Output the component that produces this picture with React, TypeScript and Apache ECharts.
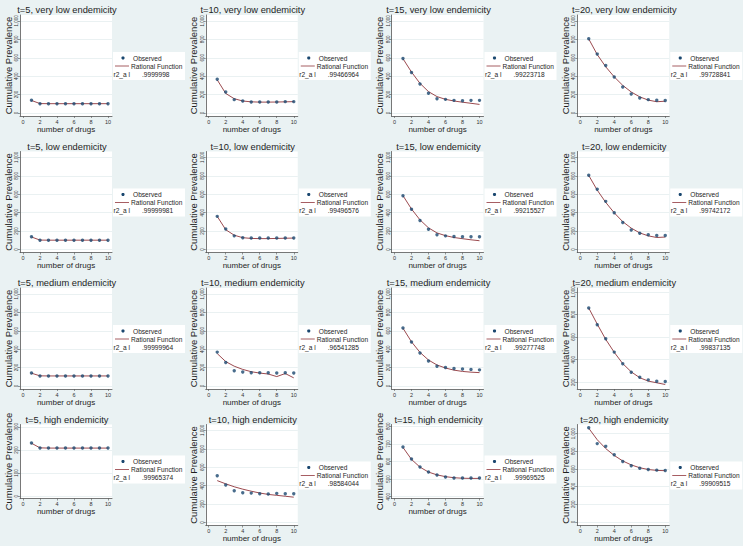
import React, { useEffect, useRef } from "react";
import * as echarts from "echarts";

// ---------- data ----------
const drugs = [1, 2, 3, 4, 5, 6, 7, 8, 9, 10];
const xTicks = [0, 2, 4, 6, 8, 10];
const yTicksStd = [0, 200, 400, 600, 800, 1000];
const yTicksMediumT20 = [200, 400, 600, 800, 1000];
const yTicksHighT5 = [0, 100, 200, 300];
const yTicksHighT15 = [400, 500, 600, 700, 800];

const timePoints = ["t=5", "t=10", "t=15", "t=20"];
const endemicity = ["very low", "low", "medium", "high"];

// very low endemicity
const obsVeryLowT5 = [138, 101, 101, 101, 101, 101, 101, 101, 101, 101];
const fitVeryLowT5 = [136, 102, 101, 101, 101, 101, 101, 101, 101, 101];
const obsVeryLowT10 = [366, 228, 145, 130, 120, 120, 120, 120, 123, 123];
const fitVeryLowT10 = [360, 212, 155, 130, 121, 118, 118, 119, 121, 123];
const obsVeryLowT15 = [592, 440, 315, 215, 155, 148, 137, 133, 137, 137];
const fitVeryLowT15 = [590, 445, 322, 232, 178, 148, 130, 117, 105, 93];
const obsVeryLowT20 = [806, 640, 515, 390, 283, 207, 163, 145, 138, 135];
const fitVeryLowT20 = [805, 635, 502, 392, 300, 228, 175, 140, 122, 128];

// low endemicity
const obsLowT5 = [138, 101, 101, 101, 101, 101, 101, 101, 101, 101];
const fitLowT5 = [136, 102, 101, 101, 101, 101, 101, 101, 101, 101];
const obsLowT10 = [360, 222, 148, 127, 124, 124, 124, 124, 124, 124];
const fitLowT10 = [360, 215, 155, 128, 120, 118, 118, 120, 122, 124];
const obsLowT15 = [583, 438, 315, 219, 159, 148, 141, 138, 138, 138];
const fitLowT15 = [585, 440, 322, 235, 180, 150, 130, 117, 105, 95];
const obsLowT20 = [806, 654, 523, 399, 293, 212, 177, 159, 152, 152];
const fitLowT20 = [805, 645, 512, 398, 302, 232, 180, 148, 130, 135];

// medium endemicity
const obsMediumT5 = [140, 109, 109, 109, 109, 109, 109, 109, 109, 109];
const fitMediumT5 = [139, 110, 109, 109, 109, 109, 109, 109, 109, 109];
const obsMediumT10 = [368, 256, 165, 151, 144, 144, 144, 141, 144, 141];
const fitMediumT10 = [352, 265, 215, 180, 155, 140, 130, 102, 135, 88];
const obsMediumT15 = [630, 478, 359, 272, 215, 200, 190, 185, 180, 175];
const fitMediumT15 = [628, 480, 365, 282, 228, 195, 172, 158, 150, 145];
const obsMediumT20 = [858, 710, 585, 467, 363, 289, 244, 221, 209, 206];
const fitMediumT20 = [858, 715, 580, 465, 365, 292, 240, 210, 195, 180];

// high endemicity
const obsHighT5 = [230, 208, 208, 208, 208, 208, 208, 208, 208, 208];
const fitHighT5 = [229, 209, 208, 208, 208, 208, 208, 208, 208, 208];
const obsHighT10 = [507, 408, 344, 323, 319, 312, 309, 316, 312, 312];
const fitHighT10 = [455, 420, 388, 362, 340, 320, 305, 295, 285, 275];
const obsHighT15 = [682, 614, 569, 540, 523, 512, 506, 506, 506, 506];
const fitHighT15 = [680, 612, 568, 540, 524, 514, 508, 505, 504, 504];
const obsHighT20 = [1065, 886, 855, 760, 684, 635, 608, 593, 586, 582];
const fitHighT20 = [1060, 930, 830, 752, 690, 645, 613, 593, 583, 580];

const r2VeryLow = [".9999998", ".99466964", ".99223718", ".99728841"];
const r2Low = [".99999981", ".99496576", ".99215527", ".99742172"];
const r2Medium = [".99999964", ".96541285", ".99277748", ".99837135"];
const r2High = [".99965374", ".98584044", ".99969525", ".99909515"];

// ---------- layout / styling ----------
const W = 743;
const H = 546;
const PW = W / 4;
const PH = H / 4;
const FONT = "'Liberation Sans', Arial, sans-serif";
const NAVY = "#1A476F";
const MAROON = "#90353B";
const BG = "#EAF2F3";
const TXT = "#1e1e1e";

type Panel = {
  obs: number[];
  fit: number[];
  r2: string;
  yMin: number;
  yMax: number;
  yTicks: number[];
  short?: boolean;
};

const panels: Panel[][] = [
  [
    { obs: obsVeryLowT5, fit: fitVeryLowT5, r2: r2VeryLow[0], yMin: -33, yMax: 1065, yTicks: yTicksStd },
    { obs: obsVeryLowT10, fit: fitVeryLowT10, r2: r2VeryLow[1], yMin: -33, yMax: 1065, yTicks: yTicksStd },
    { obs: obsVeryLowT15, fit: fitVeryLowT15, r2: r2VeryLow[2], yMin: -33, yMax: 1065, yTicks: yTicksStd },
    { obs: obsVeryLowT20, fit: fitVeryLowT20, r2: r2VeryLow[3], yMin: -33, yMax: 1065, yTicks: yTicksStd },
  ],
  [
    { obs: obsLowT5, fit: fitLowT5, r2: r2Low[0], yMin: -33, yMax: 1065, yTicks: yTicksStd },
    { obs: obsLowT10, fit: fitLowT10, r2: r2Low[1], yMin: -33, yMax: 1065, yTicks: yTicksStd },
    { obs: obsLowT15, fit: fitLowT15, r2: r2Low[2], yMin: -33, yMax: 1065, yTicks: yTicksStd },
    { obs: obsLowT20, fit: fitLowT20, r2: r2Low[3], yMin: -33, yMax: 1065, yTicks: yTicksStd },
  ],
  [
    { obs: obsMediumT5, fit: fitMediumT5, r2: r2Medium[0], yMin: -33, yMax: 1065, yTicks: yTicksStd },
    { obs: obsMediumT10, fit: fitMediumT10, r2: r2Medium[1], yMin: -33, yMax: 1065, yTicks: yTicksStd },
    { obs: obsMediumT15, fit: fitMediumT15, r2: r2Medium[2], yMin: -33, yMax: 1065, yTicks: yTicksStd },
    { obs: obsMediumT20, fit: fitMediumT20, r2: r2Medium[3], yMin: 140, yMax: 1035, yTicks: yTicksMediumT20 },
  ],
  [
    { obs: obsHighT5, fit: fitHighT5, r2: r2High[0], yMin: -10, yMax: 310, yTicks: yTicksHighT5, short: true },
    { obs: obsHighT10, fit: fitHighT10, r2: r2High[1], yMin: -33, yMax: 1065, yTicks: yTicksStd },
    { obs: obsHighT15, fit: fitHighT15, r2: r2High[2], yMin: 390, yMax: 810, yTicks: yTicksHighT15, short: true },
    { obs: obsHighT20, fit: fitHighT20, r2: r2High[3], yMin: -40, yMax: 1102, yTicks: yTicksStd },
  ],
];

function buildOption() {
  const grid: any[] = [];
  const xAxis: any[] = [];
  const yAxis: any[] = [];
  const series: any[] = [];
  const graphic: any[] = [];

  panels.forEach((row, r) => {
    row.forEach((p, c) => {
      const i = r * 4 + c;
      const ox = c * PW;
      const oy = r * PH;
      const gh = p.short ? 74 : 101;
      grid.push({
        left: ox + 20,
        top: oy + 15,
        width: 92,
        height: gh,
        show: true,
        backgroundColor: "#ffffff",
        borderWidth: 0,
        outerBoundsMode: "none",
      });
      xAxis.push({
        type: "value",
        gridIndex: i,
        min: -0.35,
        max: 10.47,
        name: "number of drugs",
        nameLocation: "middle",
        nameGap: 7,
        nameTextStyle: { fontSize: 8, color: TXT, fontFamily: FONT },
        axisLine: { show: true, onZero: false, lineStyle: { color: "#555", width: 0.8 } },
        axisTick: { show: true, length: 2, customValues: xTicks, lineStyle: { color: "#555", width: 0.6 } },
        axisLabel: { customValues: xTicks, fontSize: 5.5, margin: 2.5, color: "#333", fontFamily: FONT },
        splitLine: { show: false },
      });
      yAxis.push({
        type: "value",
        gridIndex: i,
        min: p.yMin,
        max: p.yMax,
        name: "Cumulative Prevalence",
        nameLocation: "middle",
        nameGap: 7,
        nameTextStyle: { fontSize: 9.5, color: TXT, fontFamily: FONT },
        axisLine: { show: true, onZero: false, lineStyle: { color: "#555", width: 0.8 } },
        axisTick: { show: true, length: 2, customValues: p.yTicks, lineStyle: { color: "#555", width: 0.6 } },
        axisLabel: { customValues: p.yTicks, rotate: 90, fontSize: 4.5, margin: 1, color: "#333", fontFamily: FONT },
        splitLine: { show: true, lineStyle: { color: "#E4EDEF", width: 0.8 } },
      });
      series.push({
        type: "scatter",
        name: "Observed",
        xAxisIndex: i,
        yAxisIndex: i,
        data: drugs.map((d, k) => [d, p.obs[k]]),
        symbol: "circle",
        symbolSize: 3.4,
        itemStyle: { color: NAVY },
        z: 3,
      });
      series.push({
        type: "line",
        name: "Rational Function",
        xAxisIndex: i,
        yAxisIndex: i,
        data: drugs.map((d, k) => [d, p.fit[k]]),
        showSymbol: false,
        lineStyle: { color: MAROON, width: 0.9 },
        z: 2,
      });

      // panel title
      graphic.push({
        type: "text",
        x: ox + 67,
        y: oy + 10,
        style: {
          text: `${timePoints[c]}, ${endemicity[r]} endemicity`,
          fontSize: 9.3,
          fontFamily: FONT,
          fill: TXT,
          align: "center",
          verticalAlign: "middle",
        },
      });

      // legend box
      const ly = oy + (p.short ? 46 : 52);
      graphic.push({
        type: "group",
        x: ox + 113,
        y: ly,
        children: [
          { type: "rect", shape: { x: 0, y: 0, width: 72, height: 28 }, style: { fill: "#ffffff" } },
          { type: "circle", shape: { cx: 10, cy: 6, r: 1.6 }, style: { fill: NAVY } },
          {
            type: "text",
            x: 20,
            y: 6,
            style: { text: "Observed", fontSize: 6.6, fontFamily: FONT, fill: TXT, verticalAlign: "middle" },
          },
          {
            type: "line",
            shape: { x1: 2, y1: 14, x2: 16, y2: 14 },
            style: { stroke: MAROON, lineWidth: 0.8 },
          },
          {
            type: "text",
            x: 18,
            y: 14,
            style: { text: "Rational Function", fontSize: 6.6, fontFamily: FONT, fill: TXT, verticalAlign: "middle" },
          },
          {
            type: "text",
            x: 0.5,
            y: 22,
            style: { text: "r2_a l", fontSize: 6.6, fontFamily: FONT, fill: TXT, verticalAlign: "middle" },
          },
          {
            type: "text",
            x: 29,
            y: 22,
            style: { text: p.r2, fontSize: 6.6, fontFamily: FONT, fill: TXT, verticalAlign: "middle" },
          },
        ],
      });
    });
  });

  return {
    animation: false,
    backgroundColor: BG,
    grid,
    xAxis,
    yAxis,
    series,
    graphic,
  };
}

export default function App() {
  const ref = useRef<HTMLDivElement>(null);
  useEffect(() => {
    if (!ref.current) return;
    const chart = echarts.init(ref.current, undefined, { renderer: "svg" });
    chart.setOption(buildOption() as any);
    return () => chart.dispose();
  }, []);
  return (
    <div
      ref={ref}
      style={{ position: "absolute", left: 0, top: 0, width: W, height: H }}
    />
  );
}
